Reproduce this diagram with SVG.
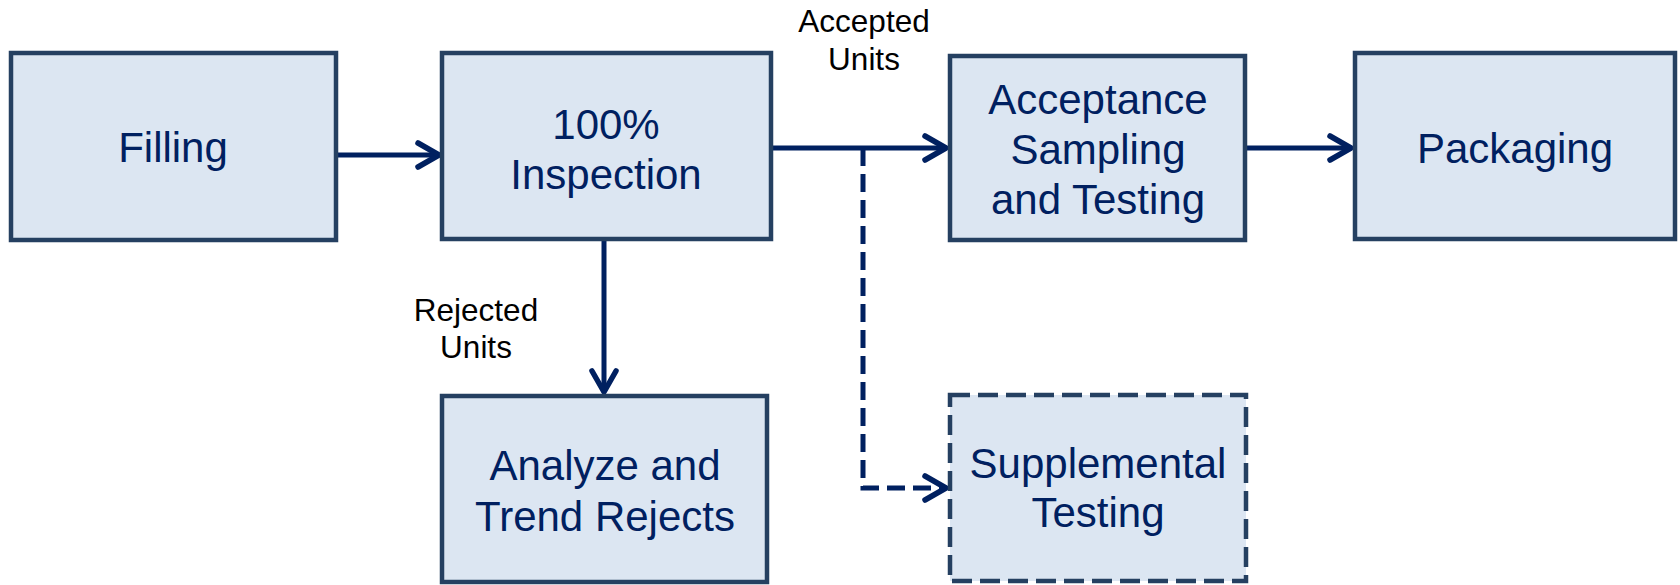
<svg xmlns="http://www.w3.org/2000/svg" width="1680" height="585" viewBox="0 0 1680 585">
  <style>
    .box { fill: #DCE6F2; stroke: #254061; stroke-width: 4.5; }
    .dbox { fill: #DCE6F2; stroke: #254061; stroke-width: 4.5; stroke-dasharray: 20 8; }
    .t { font-family: "Liberation Sans", Arial, sans-serif; font-size: 42px; fill: #002060; text-anchor: middle; }
    .lbl { font-family: "Liberation Sans", Arial, sans-serif; font-size: 31.5px; fill: #000000; text-anchor: middle; }
    .conn { fill: none; stroke: #002060; stroke-width: 5; marker-end: url(#arr); }
    .dash { stroke-dasharray: 18 8; }
  </style>
  <defs>
    <marker id="arr" markerUnits="userSpaceOnUse" markerWidth="34" markerHeight="34" viewBox="-28 -17 34 34" refX="0" refY="0" orient="auto">
      <path d="M-21,-12 L0,0 L-21,12" fill="none" stroke="#002060" stroke-width="5.5" stroke-linecap="round" stroke-linejoin="round" stroke-dasharray="none"/>
    </marker>
  </defs>

  <g id="connectors">
    <path class="conn" d="M338,155 H439"/>
    <path class="conn" d="M773,148 H946"/>
    <path class="conn" d="M1247,148 H1351"/>
    <path class="conn" d="M604,241 V392"/>
    <path class="conn dash" d="M863,148 V488 H946"/>
  </g>

  <g id="filling">
    <rect class="box" x="11" y="53" width="325" height="187"/>
    <text class="t" x="173" y="162">Filling</text>
  </g>
  <g id="inspection">
    <rect class="box" x="442" y="53" width="329" height="186"/>
    <text class="t" x="606" y="139">100%</text>
    <text class="t" x="606" y="189">Inspection</text>
  </g>
  <g id="acceptance">
    <rect class="box" x="950" y="56" width="295" height="184"/>
    <text class="t" x="1098" y="114">Acceptance</text>
    <text class="t" x="1098" y="164">Sampling</text>
    <text class="t" x="1098" y="214">and Testing</text>
  </g>
  <g id="packaging">
    <rect class="box" x="1355" y="53" width="320" height="186"/>
    <text class="t" x="1515" y="163">Packaging</text>
  </g>
  <g id="analyze">
    <rect class="box" x="442" y="396" width="325" height="186"/>
    <text class="t" x="605" y="480">Analyze and</text>
    <text class="t" x="605" y="531">Trend Rejects</text>
  </g>
  <g id="supplemental">
    <rect class="dbox" x="950" y="395" width="296" height="186"/>
    <text class="t" x="1098" y="478">Supplemental</text>
    <text class="t" x="1098" y="527">Testing</text>
  </g>

  <g id="labels">
    <text class="lbl" x="864" y="32">Accepted</text>
    <text class="lbl" x="864" y="70">Units</text>
    <text class="lbl" x="476" y="321">Rejected</text>
    <text class="lbl" x="476" y="358">Units</text>
  </g>
</svg>
